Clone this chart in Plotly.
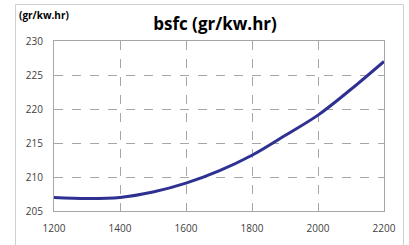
import plotly.graph_objects as go

speed_rpm = [1200, 1300, 1400, 1500, 1600, 1700, 1800, 1900, 2000, 2100, 2200]
bsfc = [207.0, 206.85, 207.0, 207.8, 209.1, 210.9, 213.2, 216.1, 219.1, 222.9, 227.0]
x_ticks = [1200, 1400, 1600, 1800, 2000, 2200]
y_ticks = [205, 210, 215, 220, 225, 230]

W, H = 409, 245
ml, mr, mt, mb = 54, 25, 41, 34
pw, ph = W - ml - mr, H - mt - mb

def px_x(p):
    return (p - ml) / pw

def px_y(p):
    return (H - mb - p) / ph

fig = go.Figure()
fig.add_trace(go.Scatter(
    x=speed_rpm, y=bsfc, mode="lines",
    line=dict(color="#2E3192", width=3, shape="spline", smoothing=1.0),
    hoverinfo="x+y", showlegend=False, cliponaxis=False,
))

font_family = "Open Sans, Liberation Sans, Arial"
fig.update_layout(
    width=W, height=H,
    margin=dict(l=ml, r=mr, t=mt, b=mb, autoexpand=False),
    paper_bgcolor="white", plot_bgcolor="white",
    font=dict(family=font_family, size=10, color="#404040"),
    title=dict(text="<b>bsfc (gr/kw.hr)</b>", x=215 / W, xanchor="center",
               y=1 - 24 / H, yanchor="middle",
               font=dict(size=17, color="#000000", family=font_family)),
    xaxis=dict(range=[1200, 2200], tickvals=x_ticks, ticktext=[str(v) for v in x_ticks],
               showgrid=True, gridcolor="#A6A6A6", griddash="dash", gridwidth=1,
               showline=True, linecolor="#A6A6A6", linewidth=1, mirror=True,
               zeroline=False, ticks="outside", ticklen=8, tickcolor="rgba(0,0,0,0)",
               automargin=False, tickfont=dict(size=10, color="#404040")),
    yaxis=dict(range=[205, 230], tickvals=y_ticks, ticktext=[str(v) for v in y_ticks],
               showgrid=True, gridcolor="#A6A6A6", griddash="dash", gridwidth=1,
               showline=True, linecolor="#A6A6A6", linewidth=1, mirror=True,
               zeroline=False, ticks="outside", ticklen=8, tickcolor="rgba(0,0,0,0)",
               automargin=False, tickfont=dict(size=10, color="#404040")),
)

fig.add_annotation(text="<b>(gr/kw.hr)</b>", xref="paper", yref="paper",
                   x=px_x(17), y=px_y(15), xanchor="left", yanchor="middle",
                   showarrow=False, font=dict(size=10, color="#000000", family=font_family))

fig.add_shape(type="rect", xref="paper", yref="paper",
              x0=px_x(15.5), x1=px_x(403.5), y0=px_y(250), y1=px_y(4.5),
              line=dict(color="#D0D0D0", width=1), fillcolor="rgba(0,0,0,0)", layer="above")

fig.write_html("out.html", config={"displayModeBar": False},
               post_script="document.body.style.margin='0px';document.body.style.overflow='hidden';")
